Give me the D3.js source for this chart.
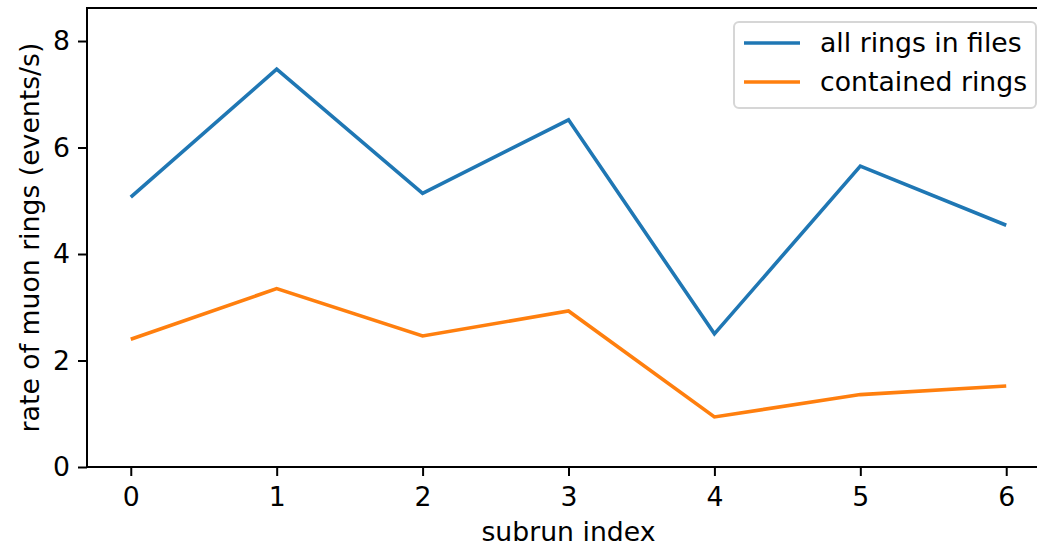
<!DOCTYPE html>
<meta charset="utf-8">
<script src="https://cdn.jsdelivr.net/npm/d3@7"></script>
<style>
  body { margin: 0; background: #fff; }
  text { font-family: "DejaVu Sans", sans-serif; }
</style>
<div id="chart"></div>
<script>

// subrun index
var subruns = [0, 1, 2, 3, 4, 5, 6];
// rate of muon rings (events/s)
var allRings = [5.07, 7.47, 5.14, 6.52, 2.50, 5.65, 4.54];
var containedRings = [2.40, 3.35, 2.46, 2.93, 0.94, 1.36, 1.52];
var seriesNames = ["all rings in files", "contained rings"];
var yTicks = [0, 2, 4, 6, 8];

var W = 1037, H = 548;
var pLeft = 87, pTop = 8, pRight = 1050, pBottom = 467;
var fs = 26.7;

var svg = d3.select("#chart")
  .append("svg")
    .attr("width", W)
    .attr("height", H);

var x = d3.scaleLinear()
  .domain([-0.3, 6.3])
  .range([pLeft, pRight]);

var y = d3.scaleLinear()
  .domain([0, 8.62])
  .range([pBottom, pTop]);

var color = d3.scaleOrdinal()
  .domain(seriesNames)
  .range(["#1f77b4", "#ff7f0e"]);

// axes
var xAxis = svg.append("g")
  .attr("transform", "translate(0," + pBottom + ")")
  .call(d3.axisBottom(x).tickValues(subruns).tickFormat(d3.format("d")).tickSize(9).tickPadding(9).tickSizeOuter(0));

var yAxis = svg.append("g")
  .attr("transform", "translate(" + pLeft + ",0)")
  .call(d3.axisLeft(y).tickValues(yTicks).tickFormat(d3.format("d")).tickSize(9).tickPadding(8).tickSizeOuter(0));

[xAxis, yAxis].forEach(function(g) {
  g.select(".domain").remove();
  g.selectAll(".tick line").attr("stroke", "#000").attr("stroke-width", 2);
  g.selectAll(".tick text")
    .attr("fill", "#000")
    .style("font-size", fs + "px")
    .style("font-family", "DejaVu Sans");
});
xAxis.selectAll(".tick text").attr("dy", "0.78em");

// lines
var line = d3.line()
  .x(function(d, i) { return x(subruns[i]); })
  .y(function(d) { return y(d); });

[allRings, containedRings].forEach(function(s, i) {
  svg.append("path")
    .datum(s)
    .attr("fill", "none")
    .attr("stroke", color(seriesNames[i]))
    .attr("stroke-width", 3.6)
    .attr("stroke-linejoin", "miter")
    .attr("stroke-linecap", "butt")
    .attr("d", line);
});

// spines
svg.append("rect")
  .attr("x", pLeft)
  .attr("y", pTop)
  .attr("width", pRight - pLeft)
  .attr("height", pBottom - pTop)
  .attr("fill", "none")
  .attr("stroke", "#000")
  .attr("stroke-width", 2);

// axis labels
svg.append("text")
  .attr("x", (pLeft + pRight) / 2)
  .attr("y", 541)
  .attr("text-anchor", "middle")
  .style("font-size", fs + "px")
  .text("subrun index");

svg.append("text")
  .attr("transform", "translate(39," + ((pTop + pBottom) / 2) + ") rotate(-90)")
  .attr("text-anchor", "middle")
  .style("font-size", fs + "px")
  .text("rate of muon rings (events/s)");

// legend
var legend = svg.append("g");
legend.append("rect")
  .attr("x", 734)
  .attr("y", 22)
  .attr("width", 302)
  .attr("height", 86)
  .attr("rx", 5)
  .attr("fill", "#fff")
  .attr("fill-opacity", 0.8)
  .attr("stroke", "#d6d6d6")
  .attr("stroke-width", 2);

seriesNames.forEach(function(name, i) {
  var ly = 43 + i * 39;
  legend.append("line")
    .attr("x1", 744)
    .attr("x2", 800)
    .attr("y1", ly)
    .attr("y2", ly)
    .attr("stroke", color(name))
    .attr("stroke-width", 3.6);
  legend.append("text")
    .attr("x", 820)
    .attr("y", ly + 9)
    .style("font-size", fs + "px")
    .text(name);
});

</script>
